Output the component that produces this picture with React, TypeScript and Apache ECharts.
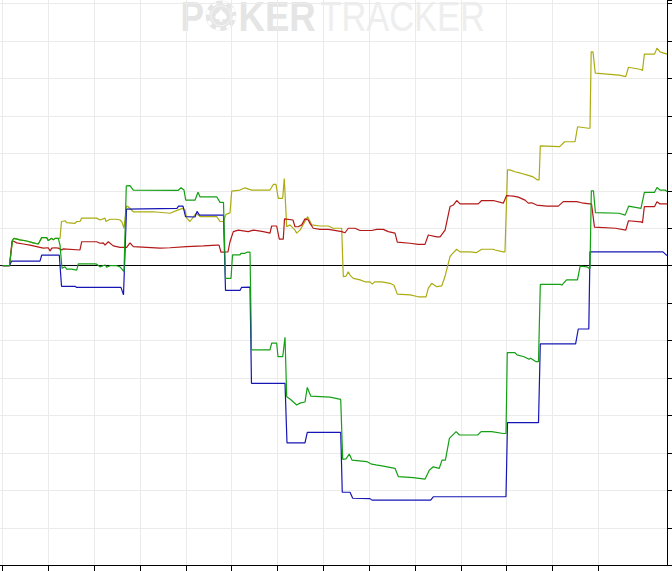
import React, { useEffect, useRef } from "react";
import * as echarts from "echarts";

// x: hands, y: winnings (1 grid step = 100)
const X_MIN = -59;
const X_MAX = 14502;
const X_GRID_MAX = 13000; // last vertical grid line / tick
const X_STEP = 1000;
const Y_MIN = -800;
const Y_MAX = 709.5;
const Y_STEP = 100;

const blueData: number[][] = [[0,0],[148,0],[192,12],[814,12],[851,28],[1236,28],[1284,-55],[1578,-55],[1615,-58],[2582,-58],[2637,-78],[2703,151],[3805,153],[3838,159],[3936,159],[3991,131],[4198,130],[4242,145],[4296,135],[4820,135],[4864,-66],[5180,-66],[5213,-58],[5399,-57],[5431,-314],[6163,-314],[6206,-473],[6599,-473],[6649,-445],[7379,-445],[7413,-605],[7582,-605],[7641,-621],[8018,-622],[8062,-626],[9343,-626],[9400,-617],[10987,-617],[11020,-419],[11697,-419],[11736,-209],[12507,-209],[12565,-169],[12795,-169],[12821,37],[14414,37],[14502,27]];

const redData: number[][] = [[0,0],[148,0],[203,65],[231,66],[306,61],[450,58],[596,55],[742,51],[886,47],[995,48],[1033,39],[1070,47],[1142,48],[1214,47],[1288,42],[1323,45],[1687,42],[1725,64],[2052,64],[2124,60],[2196,61],[2233,55],[2305,64],[2414,53],[2561,49],[2707,49],[2779,61],[2851,51],[3144,49],[3434,47],[3653,48],[4017,51],[4379,53],[4672,55],[4722,55],[4766,36],[4918,37],[4962,64],[5034,91],[5143,95],[5361,91],[5471,95],[5689,91],[5835,87],[5872,106],[5981,106],[6038,71],[6125,71],[6152,125],[6337,122],[6381,104],[6453,104],[6527,109],[6599,125],[6671,122],[6708,113],[6780,100],[6927,97],[7108,97],[7217,95],[7400,91],[7473,88],[7544,100],[7690,100],[7800,94],[8055,94],[8164,97],[8308,97],[8418,91],[8564,87],[8614,63],[8891,60],[9072,57],[9219,57],[9291,82],[9474,77],[9548,77],[9657,95],[9765,158],[9837,162],[9911,174],[9983,165],[10382,165],[10456,174],[10710,174],[10928,167],[10998,187],[11146,186],[11256,183],[11402,175],[11474,167],[11548,168],[11657,162],[11876,159],[12129,159],[12238,171],[12530,171],[12640,168],[12810,165],[12854,165],[12919,103],[13380,100],[13602,95],[13661,120],[13934,117],[13967,115],[14008,158],[14231,158],[14283,171],[14349,165],[14502,165]];

const greenData: number[][] = [[0,0],[148,0],[214,69],[247,73],[378,69],[524,66],[668,61],[777,58],[851,75],[961,75],[995,67],[1070,73],[1105,69],[1142,73],[1214,73],[1251,55],[1295,-7],[1360,-3],[1397,-9],[1506,-9],[1615,-12],[1650,5],[2015,5],[2052,4],[2124,-3],[2233,2],[2270,-4],[2342,0],[2489,0],[2561,-3],[2648,-16],[2698,213],[2779,214],[2851,202],[3827,201],[3892,208],[3958,202],[3995,175],[4198,175],[4263,196],[4307,184],[4672,184],[4744,169],[4820,169],[4864,-34],[4984,-34],[5017,29],[5180,29],[5202,33],[5289,33],[5333,36],[5399,36],[5431,-225],[5835,-225],[5872,-207],[5981,-207],[6010,-243],[6113,-243],[6163,-191],[6200,-350],[6272,-356],[6418,-372],[6490,-367],[6599,-364],[6649,-325],[6724,-348],[7145,-351],[7379,-357],[7422,-517],[7494,-516],[7566,-503],[7625,-519],[7946,-523],[8055,-530],[8149,-532],[8308,-535],[8564,-541],[8636,-563],[8963,-566],[9219,-570],[9313,-546],[9400,-537],[9531,-541],[9590,-519],[9664,-519],[9752,-461],[9898,-443],[9970,-452],[10370,-452],[10443,-443],[10675,-443],[10928,-448],[10987,-448],[11015,-232],[11183,-232],[11228,-238],[11381,-243],[11490,-250],[11525,-247],[11636,-256],[11697,-256],[11736,-50],[12185,-50],[12207,-52],[12309,-38],[12547,-38],[12606,-1],[12753,-3],[12800,-7],[12821,-7],[12850,200],[12896,200],[12939,142],[13456,140],[13588,135],[13664,159],[13934,153],[14008,196],[14231,196],[14283,209],[14349,202],[14458,202],[14502,198]];

const yellowData: number[][] = [[0,0],[148,0],[214,69],[247,73],[378,69],[524,66],[668,61],[777,58],[851,75],[961,75],[995,67],[1070,73],[1105,69],[1142,73],[1214,73],[1251,73],[1284,118],[1360,120],[1397,115],[1578,113],[1615,118],[1687,118],[1725,127],[2052,127],[2124,122],[2233,127],[2255,118],[2342,124],[2489,124],[2561,122],[2603,117],[2648,100],[2703,159],[2735,158],[2851,144],[3288,144],[3652,140],[3833,149],[3936,153],[3980,149],[4017,127],[4089,118],[4220,140],[4307,131],[4672,131],[4744,118],[4816,118],[4875,137],[4962,141],[4999,199],[5180,202],[5289,208],[5436,202],[5835,202],[5907,217],[5966,217],[6016,180],[6112,180],[6147,233],[6200,104],[6272,109],[6381,95],[6418,87],[6490,95],[6658,131],[6746,109],[6927,106],[7108,106],[7217,100],[7400,100],[7435,-29],[7494,-28],[7544,-16],[7582,-25],[7654,-34],[7800,-38],[7909,-43],[8018,-43],[8068,-49],[8117,-43],[8274,-43],[8456,-47],[8542,-52],[8614,-76],[8891,-78],[9072,-83],[9242,-83],[9291,-60],[9365,-47],[9474,-56],[9583,-54],[9655,-29],[9765,24],[9808,31],[9911,44],[9983,37],[10201,37],[10347,35],[10456,44],[10710,44],[10747,42],[10928,37],[10965,37],[11020,256],[11070,256],[11183,251],[11308,247],[11456,242],[11565,238],[11676,229],[11710,229],[11736,320],[12159,318],[12268,331],[12494,331],[12550,371],[12788,367],[12821,367],[12847,571],[12886,571],[12936,514],[13456,509],[13602,505],[13661,530],[13934,524],[13967,521],[14008,565],[14231,565],[14283,581],[14349,571],[14502,565]];

const SPADE =
  "M0,-6 C-1,-3 -6,-1 -6,2.5 C-6,5 -2.5,5.5 -0.8,3.5 L-2,7 L2,7 L0.8,3.5 C2.5,5.5 6,5 6,2.5 C6,-1 1,-3 0,-6 Z";
try {
  echarts.graphic.registerShape("spade", echarts.graphic.extendPath(SPADE, {}) as any);
} catch (e) {}

const COLORS = {
  yellow: "#acac12",
  red: "#b41818",
  blue: "#1616b4",
  green: "#14a014",
};

function lineSeries(name: string, data: number[][], color: string, extra: any = {}) {
  return {
    name,
    type: "line",
    xAxisIndex: 0,
    yAxisIndex: 0,
    data,
    showSymbol: false,
    symbol: "none",
    lineStyle: { color, width: 1.2 },
    itemStyle: { color },
    z: 3,
    ...extra,
  };
}

export default function App() {
  const ref = useRef<HTMLDivElement>(null);
  useEffect(() => {
    if (!ref.current) return;
    const chart = echarts.init(ref.current, undefined, { renderer: "svg" });
    const W = 672;
    const plotW = W - 5; // grid right edge at 667
    const pxPer = plotW / (X_MAX - X_MIN);
    const gridLeft2 = (0 - X_MIN) * pxPer;
    const gridRight2 = W - (X_GRID_MAX - X_MIN) * pxPer;
    const wmBold = 'bold 43px "Liberation Sans", Arial, sans-serif';
    const wmReg = '43px "Liberation Sans", Arial, sans-serif';
    chart.setOption({
      animation: false,
      backgroundColor: "#ffffff",
      grid: [
        { left: 0, right: 5, top: 0, bottom: 5.7, containLabel: false },
        { left: gridLeft2, right: gridRight2, top: 0, bottom: 5.7, containLabel: false },
      ],
      xAxis: [
        {
          type: "value",
          gridIndex: 0,
          min: X_MIN,
          max: X_MAX,
          position: "bottom",
          axisLine: { show: true, onZero: false, lineStyle: { color: "#000", width: 1 } },
          axisTick: { show: false },
          axisLabel: { show: false },
          splitLine: { show: false },
        },
        {
          type: "value",
          gridIndex: 1,
          min: 0,
          max: X_GRID_MAX,
          interval: X_STEP,
          position: "bottom",
          axisLine: { show: false, onZero: false },
          axisTick: { show: true, length: 6, inside: false, lineStyle: { color: "#000" } },
          axisLabel: { show: false },
          splitLine: { show: true, lineStyle: { color: "#ebebeb", width: 1 } },
        },
      ],
      yAxis: [
        {
          type: "value",
          gridIndex: 0,
          min: Y_MIN,
          max: Y_MAX,
          interval: Y_STEP,
          position: "right",
          axisLine: { show: true, onZero: false, lineStyle: { color: "#000", width: 1 } },
          axisTick: { show: true, length: 6, inside: false, lineStyle: { color: "#000" } },
          axisLabel: { show: false },
          splitLine: {
            show: true,
            showMaxLine: false,
            lineStyle: { color: "#ebebeb", width: 1 },
          },
        },
        {
          type: "value",
          gridIndex: 1,
          min: Y_MIN,
          max: Y_MAX,
          show: false,
          axisLine: { show: false, onZero: false },
          splitLine: { show: false },
        },
      ],
      graphic: [
        {
          type: "group",
          z: 1,
          silent: true,
          children: [
            {
              type: "text",
              x: 180.4,
              y: 0,
              scaleX: 0.82,
              style: { text: "P", font: wmBold, lineHeight: 32, fill: "#e5e5e5", textVerticalAlign: "top" },
            },
            {
              type: "circle",
              shape: { cx: 221, cy: 15.8, r: 15.3 },
              style: { fill: "#e5e5e5" },
            },
            {
              type: "circle",
              shape: { cx: 221, cy: 15.8, r: 13.4 },
              style: { fill: "none", stroke: "#ffffff", lineWidth: 3.2, lineDash: [4.5, 6.2] },
            },
            {
              type: "circle",
              shape: { cx: 221, cy: 15.8, r: 10 },
              style: { fill: "none", stroke: "#f6f6f6", lineWidth: 1 },
            },
            {
              type: "spade",
              x: 221,
              y: 14.8,
              scaleX: 0.95,
              scaleY: 0.95,
              style: { fill: "#ffffff" },
            },
            {
              type: "text",
              x: 238.5,
              y: 0,
              scaleX: 0.85,
              style: { text: "KER", font: wmBold, lineHeight: 32, fill: "#e5e5e5", textVerticalAlign: "top" },
            },
            {
              type: "text",
              x: 320.5,
              y: 0,
              scaleX: 0.8,
              style: { text: "TRACKER", font: wmReg, lineHeight: 32, fill: "#eeeeee", textVerticalAlign: "top" },
            },
          ],
        },
      ],
      series: [
        lineSeries("All-in EV", yellowData, COLORS.yellow, {
          markLine: {
            silent: true,
            symbol: "none",
            label: { show: false },
            lineStyle: { color: "#000", width: 1, type: "solid" },
            data: [{ yAxis: 0 }],
            z: 2,
          },
        }),
        lineSeries("Non-showdown", redData, COLORS.red),
        lineSeries("Showdown", blueData, COLORS.blue),
        lineSeries("Net won", greenData, COLORS.green),
      ],
    });
    return () => chart.dispose();
  }, []);
  return (
    <div
      ref={ref}
      style={{ position: "absolute", left: 0, top: 0, width: 672, height: 571, background: "#fff" }}
    />
  );
}
